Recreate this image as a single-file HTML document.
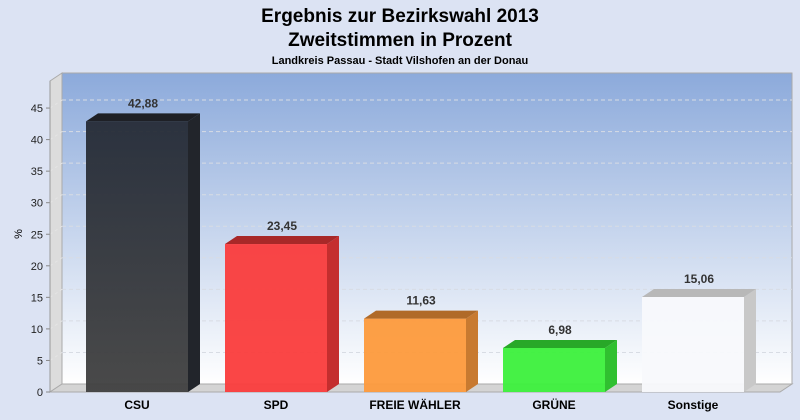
<!DOCTYPE html>
<html><head><meta charset="utf-8"><style>
body{margin:0;background:#dce3f3;font-family:"Liberation Sans",Arial,sans-serif}
svg{display:block}
</style></head><body>
<svg id="c" width="800" height="420" xmlns="http://www.w3.org/2000/svg">
<defs>
<linearGradient id="bg" x1="0" y1="0" x2="0" y2="1"><stop offset="0" stop-color="#8caadb"/><stop offset="1" stop-color="#ffffff"/></linearGradient>
<linearGradient id="csu" x1="0" y1="0" x2="0" y2="1"><stop offset="0" stop-color="#252b36"/><stop offset="1" stop-color="#404040"/></linearGradient>
</defs>
<rect width="800" height="420" fill="#dce3f3"/>
<text x="400" y="22" text-anchor="middle" font-size="19" font-weight="bold" fill="#000">Ergebnis zur Bezirkswahl 2013</text>
<text x="400" y="46" text-anchor="middle" font-size="19" font-weight="bold" fill="#000">Zweitstimmen in Prozent</text>
<text x="400" y="64" text-anchor="middle" font-size="11" font-weight="bold" fill="#000">Landkreis Passau - Stadt Vilshofen an der Donau</text>
<g id="plot"></g>
</svg>
<script>
const categories=["CSU","SPD","FREIE WÄHLER","GRÜNE","Sonstige"];
const values=[42.88,23.45,11.63,6.98,15.06];
const labels=["42,88","23,45","11,63","6,98","15,06"];
const ticks=[0,5,10,15,20,25,30,35,40,45];
const colors=[["url(#csu)","#22252b","#1e2026"],["#fa3c3c","#c42e2e","#a82828"],["#fd9a3c","#c87a30","#b06a28"],["#3cf03c","#30c030","#28a828"],["#f8f9fc","#c8c8c8","#b8b8b8"]];
const NS="http://www.w3.org/2000/svg";
const g=document.getElementById('plot');
const x0=50,x1=780,y0=392,dx=12,dy=8,scale=6.31;
const y=v=>y0-v*scale;
function el(t,a,p){const e=document.createElementNS(NS,t);for(const k in a)e.setAttribute(k,a[k]);(p||g).appendChild(e);return e;}
const wall=el('rect',{x:x0+dx,y:73,width:x1-x0,height:y0-dy-73,fill:'url(#bg)',stroke:'#aaa'});


const side=el('polygon',{points:`${x0},${y0} ${x0+dx},${y0-dy} ${x0+dx},73 ${x0},81`,fill:'#dcdcdc',stroke:'#aaa'});


const floor=el('polygon',{points:`${x0},${y0} ${x0+dx},${y0-dy} ${x1+dx},${y0-dy} ${x1},${y0}`,fill:'#d4d4d4',stroke:'#aaa'});


ticks.forEach(t=>{
  if(t>0){const l=el('line',{x1:x0+dx,x2:x1+dx,y1:y(t)-dy,y2:y(t)-dy,stroke:'#d8dce4','stroke-dasharray':'4,3'});
  
  
  const d=el('line',{x1:x0,x2:x0+dx,y1:y(t),y2:y(t)-dy,stroke:'#e4e4e4','stroke-dasharray':'3,3'});
  
  }
  const k=el('line',{x1:x0-4,x2:x0,y1:y(t),y2:y(t),stroke:'#888'});
  
  
  const tx=el('text',{x:x0-7,y:y(t)+4,'text-anchor':'end','font-size':'11',fill:'#222'});
  tx.textContent=t;
  
  
});
const ax=el('line',{x1:x0,x2:x0,y1:81,y2:y0,stroke:'#999'});


const yt=el('text',{x:22,y:234,'text-anchor':'middle','font-size':'11',fill:'#000',transform:'rotate(-90 22 234)'});
yt.textContent='%';


const step=139,bw=102,bx0=86;
categories.forEach((c,i)=>{
  const bx=bx0+i*step,top=y(values[i]),col=colors[i];
  const grp=el('g',{});
  
  
  el('rect',{x:bx,y:top,width:bw,height:y0-top,fill:col[0],'fill-opacity':'0.95'},grp);
  el('polygon',{points:`${bx+bw},${y0} ${bx+bw+dx},${y0-dy} ${bx+bw+dx},${top-dy} ${bx+bw},${top}`,fill:col[1]},grp);
  el('polygon',{points:`${bx},${top} ${bx+dx},${top-dy} ${bx+bw+dx},${top-dy} ${bx+bw},${top}`,fill:col[2]},grp);
  const v=el('text',{x:bx+bw/2+6,y:top-14,'text-anchor':'middle','font-size':'12','font-weight':'bold',fill:'#333'});
  v.textContent=labels[i];
  
  
  const t=el('text',{x:bx+bw/2,y:409,'text-anchor':'middle','font-size':'12','font-weight':'bold',fill:'#000'});
  t.textContent=c;
  
  
});
</script>
</body></html>
